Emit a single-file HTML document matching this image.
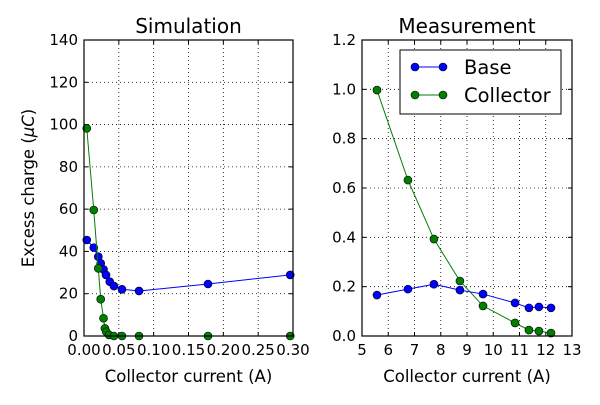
<!DOCTYPE html>
<html><head><meta charset="utf-8"><style>
html,body{margin:0;padding:0;background:#fff;}
svg text{font-family:"DejaVu Sans","Liberation Sans",sans-serif;}
</style></head><body>
<svg id="c" width="600" height="400" xmlns="http://www.w3.org/2000/svg"></svg>
<script>
const simBaseX=[0.004,0.014,0.0205,0.024,0.028,0.0316,0.037,0.043,0.0545,0.079,0.178,0.296];
const simBaseY=[45.4,41.8,37.5,34.4,31.5,28.9,25.7,23.6,22.1,21.3,24.6,28.9];
const simCollX=[0.004,0.014,0.0205,0.024,0.028,0.030,0.032,0.036,0.043,0.0545,0.079,0.178,0.296];
const simCollY=[98.2,59.6,32,17.4,8.4,3.6,2,0.5,0,0,0,0,0];
const measX=[5.57,6.75,7.74,8.73,9.61,10.83,11.36,11.74,12.2];
const measBaseY=[0.166,0.19,0.21,0.186,0.17,0.134,0.114,0.118,0.114];
const measCollY=[0.997,0.632,0.393,0.223,0.122,0.053,0.024,0.02,0.012];
const simXTicks=["0.00","0.05","0.10","0.15","0.20","0.25","0.30"];
const simYTicks=["0","20","40","60","80","100","120","140"];
const measXTicks=["5","6","7","8","9","10","11","12","13"];
const measYTicks=["0.0","0.2","0.4","0.6","0.8","1.0","1.2"];

const svg=document.getElementById('c');
const NS="http://www.w3.org/2000/svg";
function mk(tag,attrs,parent){const e=document.createElementNS(NS,tag);for(const k in attrs)e.setAttribute(k,attrs[k]);(parent||svg).appendChild(e);return e;}

function panel(p){
  const g=mk('g',{});
  
  
  const sx=v=>p.x0+(v-p.xmin)/(p.xmax-p.xmin)*(p.x1-p.x0);
  const sy=v=>p.y0-(v-p.ymin)/(p.ymax-p.ymin)*(p.y0-p.y1);
  p.xt.forEach(t=>{const x=sx(parseFloat(t));
    const l=mk('line',{x1:x,x2:x,y1:p.y1,y2:p.y0,stroke:'#000','stroke-dasharray':'1,3','stroke-width':0.8},g);
    
    mk('line',{x1:x,x2:x,y1:p.y0,y2:p.y0-4,stroke:'#000'},g);
    mk('line',{x1:x,x2:x,y1:p.y1,y2:p.y1+4,stroke:'#000'},g);
    const tx=mk('text',{x:x,y:p.y0+19,'font-size':15,'text-anchor':'middle'},g);tx.textContent=t;
    
  });
  p.yt.forEach(t=>{const y=sy(parseFloat(t));
    const l=mk('line',{x1:p.x0,x2:p.x1,y1:y,y2:y,stroke:'#000','stroke-dasharray':'1,3','stroke-width':0.8},g);
    
    mk('line',{x1:p.x0,x2:p.x0+4,y1:y,y2:y,stroke:'#000'},g);
    mk('line',{x1:p.x1,x2:p.x1-4,y1:y,y2:y,stroke:'#000'},g);
    const tx=mk('text',{x:p.x0-6,y:y+5,'font-size':15,'text-anchor':'end'},g);tx.textContent=t;
    
  });
  p.series.forEach(s=>{
    const pts=s.x.map((v,i)=>sx(v)+','+sy(s.y[i])).join(' ');
    const pl=mk('polyline',{points:pts,fill:'none',stroke:s.c,'stroke-width':1},g);
    
    s.x.forEach((v,i)=>{const m=mk('circle',{cx:sx(v),cy:sy(s.y[i]),r:4,fill:s.c,stroke:'#000','stroke-width':0.6},g);
      });
  });
  const fr=mk('rect',{x:p.x0,y:p.y1,width:p.x1-p.x0,height:p.y0-p.y1,fill:'none',stroke:'#000','stroke-width':1.2},g);
  
  const ti=mk('text',{x:(p.x0+p.x1)/2,y:p.y1-7,'font-size':20,'text-anchor':'middle'},g);ti.textContent=p.title;
  
  const xl=mk('text',{x:(p.x0+p.x1)/2,y:382,'font-size':16.5,'text-anchor':'middle'},g);xl.textContent='Collector current (A)';
  
}
panel({name:'simulation-panel',title:'Simulation',x0:84,x1:293,y0:336,y1:40,xmin:0,xmax:0.30,ymin:0,ymax:140,xt:simXTicks,yt:simYTicks,
  series:[{name:'sim-base',x:simBaseX,y:simBaseY,c:'#0000ff'},{name:'sim-collector',x:simCollX,y:simCollY,c:'#007f00'}]});
panel({name:'measurement-panel',title:'Measurement',x0:362,x1:572,y0:336,y1:40,xmin:5,xmax:13,ymin:0,ymax:1.2,xt:measXTicks,yt:measYTicks,
  series:[{name:'meas-base',x:measX,y:measBaseY,c:'#0000ff'},{name:'meas-collector',x:measX,y:measCollY,c:'#007f00'}]});
const yl=mk('text',{x:34,y:188,'font-size':16.5,'text-anchor':'middle',transform:'rotate(-90 34 188)'});
yl.innerHTML='Excess charge (<tspan font-style="italic">μC</tspan>)';


const lg=mk('g',{});


mk('rect',{x:400,y:50,width:161,height:64,fill:'#fff',stroke:'#000','stroke-width':1},lg);
[['Base','#0000ff',67],['Collector','#007f00',95]].forEach(([n,c,y])=>{
  const e=mk('g',{},lg);
  
  
  mk('line',{x1:415,x2:443,y1:y,y2:y,stroke:c},e);
  mk('circle',{cx:415,cy:y,r:4,fill:c,stroke:'#000','stroke-width':0.6},e);
  mk('circle',{cx:443,cy:y,r:4,fill:c,stroke:'#000','stroke-width':0.6},e);
  const t=mk('text',{x:464,y:y+7,'font-size':19.5},e);t.textContent=n;
});
</script>
</body></html>
